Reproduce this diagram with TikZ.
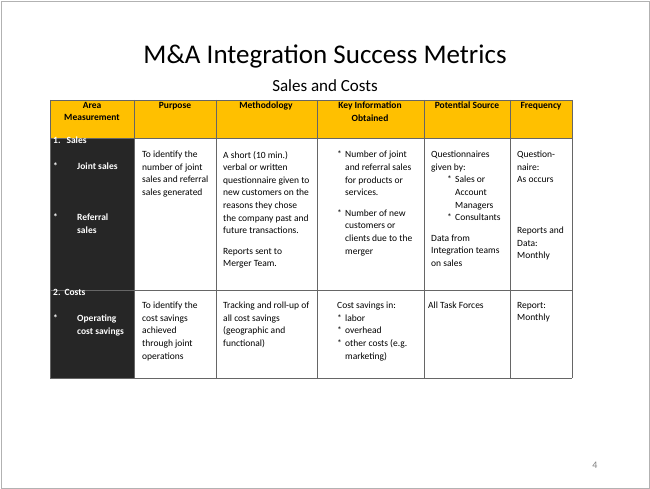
\documentclass[tikz,border=0pt]{standalone}
\usepackage{fontspec}
\setmainfont{Carlito}
\definecolor{headgold}{HTML}{FFC000}
\definecolor{areadark}{HTML}{262626}
\tikzset{
  cell/.style={anchor=north west, inner sep=0pt, align=left, font=\fontsize{9.5}{12.6}\selectfont},
  head/.style={anchor=north, inner sep=0pt, align=center, font=\fontsize{9.5}{12.6}\selectfont\bfseries},
  area/.style={cell, text=white, font=\fontsize{9.5}{12.6}\selectfont\bfseries},
}
\newcommand\bul{\makebox[8pt][l]{*}}
\newcommand\ind{\hspace*{8pt}}
\begin{document}
\begin{tikzpicture}[x=1pt,y=-1pt]
    \useasboundingbox (0,0) rectangle (650,489);
    \draw[gray!60] (1,1) rectangle (649,488);

    \node (title) at (325,56) {\fontsize{27}{30}\selectfont M\&A Integration Success Metrics};
    \node (subtitle) at (325,86) {\fontsize{17}{20}\selectfont Sales and Costs};
    \node[text=gray] (page) at (595,465) {\fontsize{10}{12}\selectfont 4};

    % header and area column
    \fill[headgold] (50,100) rectangle (572,138);
    \fill[areadark] (50,138) rectangle (134,378);
    \foreach \x in {50,134,216,317,424,510,572}
        \draw[gray!80!black, thick] (\x,100) -- (\x,378);
    \foreach \y in {100,138,290,378}
        \draw[gray!80!black, thick] (50,\y) -- (572,\y);

    \node[head] (harea) at (92,102) {Area\\Measurement};
    \node[head] (hpurpose) at (175,102) {Purpose};
    \node[head] (hmethod) at (266,102) {Methodology};
    \node[head] (hkey) at (370,102) {Key Information\\Obtained};
    \node[head] (hsource) at (467,102) {Potential Source};
    \node[head] (hfreq) at (541,102) {Frequency};

    % row 1: sales
    \node[area] (sales) at (53,137) {1.\hspace{6pt}Sales};
    \node[area] (jstar) at (53,163) {*};
    \node[area] (joint) at (77,163) {Joint sales};
    \node[area] (rstar) at (53,214) {*};
    \node[area] (referral) at (77,214) {Referral\\sales};

    \node[cell] (spurpose) at (142,151) {To identify the\\number of joint\\sales and referral\\sales generated};
    \node[cell] (smethod) at (223,151) {A short (10 min.)\\verbal or written\\questionnaire given to\\new customers on the\\reasons they chose\\the company past and\\future transactions.\\[8pt]Reports sent to\\Merger Team.};
    \node[cell] (skey) at (337,151) {\bul Number of joint\\\ind and referral sales\\\ind for products or\\\ind services.\\[8pt]\bul Number of new\\\ind customers or\\\ind clients due to the\\\ind merger};
    \node[cell] (ssource) at (431,151) {Questionnaires\\given by:\\\ind\ind\bul Sales or\\\ind\ind\ind Account\\\ind\ind\ind Managers\\\ind\ind\bul Consultants\\[8pt]Data from\\Integration teams\\on sales};
    \node[cell] (sfreq) at (517,151) {Question-\\naire:\\As occurs};
    \node[cell] (sfreq2) at (517,227) {Reports and\\Data:\\Monthly};

    % row 2: costs
    \node[area] (costs) at (53,289) {2.\hspace{4pt}Costs};
    \node[area] (ostar) at (53,315) {*};
    \node[area] (operating) at (77,315) {Operating\\cost savings};

    \node[cell] (cpurpose) at (142,302) {To identify the\\cost savings\\achieved\\through joint\\operations};
    \node[cell] (cmethod) at (223,302) {Tracking and roll-up of\\all cost savings\\(geographic and\\functional)};
    \node[cell] (ckey) at (337,302) {Cost savings in:\\\bul labor\\\bul overhead\\\bul other costs (e.g.\\\ind marketing)};
    \node[cell] (csource) at (428,302) {All Task Forces};
    \node[cell] (cfreq) at (517,302) {Report:\\Monthly};
\end{tikzpicture}
\end{document}
